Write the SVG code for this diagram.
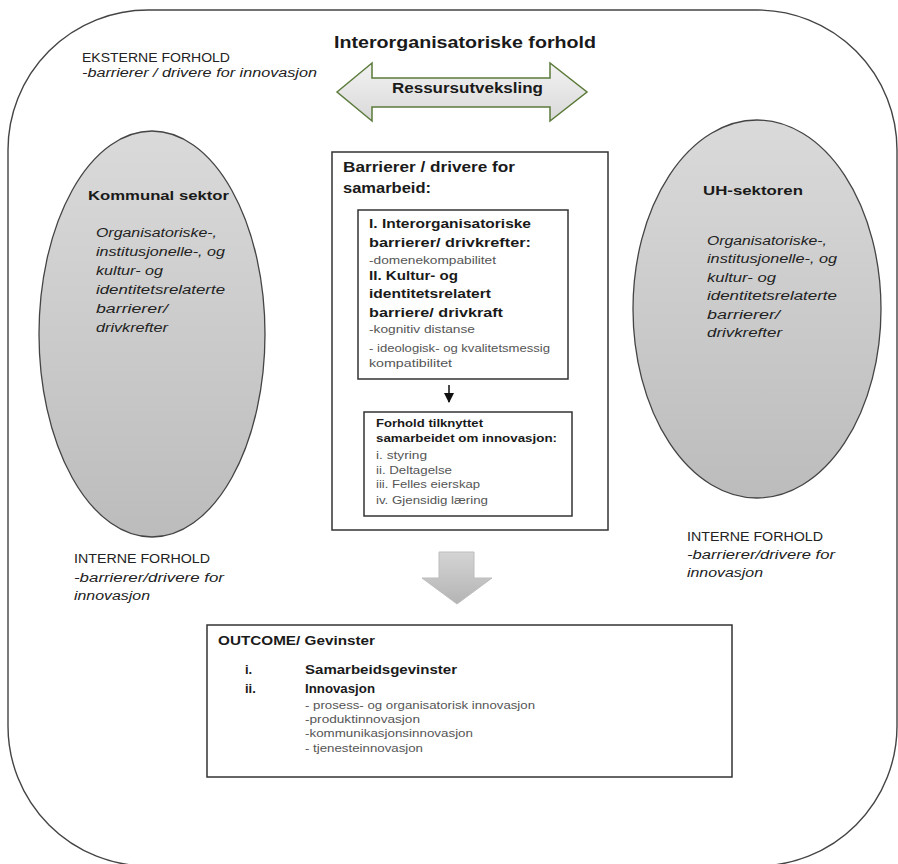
<svg xmlns="http://www.w3.org/2000/svg" width="898" height="864" viewBox="0 0 898 864">
<defs>
<linearGradient id="ellG" x1="0" y1="0" x2="0" y2="1">
<stop offset="0" stop-color="#dadada"/>
<stop offset="1" stop-color="#bcbcbc"/>
</linearGradient>
<linearGradient id="dblG" x1="0" y1="0" x2="0" y2="1">
<stop offset="0" stop-color="#f2f2f2"/>
<stop offset="1" stop-color="#d9d9d9"/>
</linearGradient>
<linearGradient id="downG" x1="0" y1="0" x2="0" y2="1">
<stop offset="0" stop-color="#d4d4d4"/>
<stop offset="1" stop-color="#b4b4b4"/>
</linearGradient>
<marker id="ah" viewBox="0 0 10 10" refX="9" refY="5" markerWidth="7" markerHeight="7" orient="auto">
<path d="M0,0 L10,5 L0,10 z" fill="#111"/>
</marker>
</defs>
<style>
text{font-family:"Liberation Sans",Arial,sans-serif;fill:#222}
.b{font-weight:bold;fill:#1a1a1a}
.it{font-style:italic}
.sm{font-size:10px;fill:#555}
.box{fill:#fff;stroke:#333;stroke-width:1.5}
.ell{fill:url(#ellG);stroke:#444;stroke-width:1.3}
</style>
<rect width="898" height="864" fill="#fff"/>

<g id="frame">
<rect x="8" y="10" width="889" height="856" rx="140" ry="140" fill="none" stroke="#444" stroke-width="1.4"/>
<text x="82" y="62" font-size="12" textLength="148" lengthAdjust="spacingAndGlyphs">EKSTERNE FORHOLD</text>
<text class="it" x="82" y="77" font-size="12" textLength="235" lengthAdjust="spacingAndGlyphs">-barrierer / drivere for innovasjon</text>
<text class="b" x="334" y="48" font-size="16" textLength="262" lengthAdjust="spacingAndGlyphs">Interorganisatoriske forhold</text>
</g>

<g id="ressursutveksling">
<path d="M337,92 L372,63 L372,78 L550,78 L550,63 L587,92 L550,121 L550,107 L372,107 L372,121 Z" fill="url(#dblG)" stroke="#5b7a3a" stroke-width="1.5"/>
<text class="b" x="392" y="93" font-size="14" textLength="151" lengthAdjust="spacingAndGlyphs">Ressursutveksling</text>
</g>

<g id="kommunal">
<ellipse class="ell" cx="152" cy="334" rx="113" ry="203"/>
<text class="b" x="88" y="200" font-size="13.5" textLength="141" lengthAdjust="spacingAndGlyphs">Kommunal sektor</text>
<g class="it" font-size="12">
<text x="96" y="237" textLength="121" lengthAdjust="spacingAndGlyphs">Organisatoriske-,</text>
<text x="96" y="256" textLength="129" lengthAdjust="spacingAndGlyphs">institusjonelle-, og</text>
<text x="96" y="275" textLength="67" lengthAdjust="spacingAndGlyphs">kultur- og</text>
<text x="96" y="294" textLength="129" lengthAdjust="spacingAndGlyphs">identitetsrelaterte</text>
<text x="96" y="313" textLength="72" lengthAdjust="spacingAndGlyphs">barrierer/</text>
<text x="96" y="332" textLength="72" lengthAdjust="spacingAndGlyphs">drivkrefter</text>
</g>
</g>

<g id="uh">
<ellipse class="ell" cx="757" cy="309" rx="124" ry="189"/>
<text class="b" x="703" y="195" font-size="13.5" textLength="100" lengthAdjust="spacingAndGlyphs">UH-sektoren</text>
<g class="it" font-size="12">
<text x="707" y="245" textLength="120" lengthAdjust="spacingAndGlyphs">Organisatoriske-,</text>
<text x="707" y="263" textLength="130" lengthAdjust="spacingAndGlyphs">institusjonelle-, og</text>
<text x="707" y="282" textLength="69" lengthAdjust="spacingAndGlyphs">kultur- og</text>
<text x="707" y="300" textLength="130" lengthAdjust="spacingAndGlyphs">identitetsrelaterte</text>
<text x="707" y="319" textLength="73" lengthAdjust="spacingAndGlyphs">barrierer/</text>
<text x="707" y="337" textLength="75" lengthAdjust="spacingAndGlyphs">drivkrefter</text>
</g>
</g>

<g id="samarbeid">
<rect class="box" x="332" y="152" width="276" height="378"/>
<text class="b" x="343" y="172" font-size="14.5" textLength="172" lengthAdjust="spacingAndGlyphs">Barrierer / drivere for</text>
<text class="b" x="343" y="193" font-size="14.5" textLength="88" lengthAdjust="spacingAndGlyphs">samarbeid:</text>
</g>

<g id="barrierer">
<rect class="box" x="358" y="210" width="210" height="169"/>
<text class="b" x="369" y="228" font-size="13.5" textLength="162" lengthAdjust="spacingAndGlyphs">I. Interorganisatoriske</text>
<text class="b" x="369" y="247" font-size="13.5" textLength="162" lengthAdjust="spacingAndGlyphs">barrierer/ drivkrefter:</text>
<text class="sm" x="369" y="264" textLength="127" lengthAdjust="spacingAndGlyphs">-domenekompabilitet</text>
<text class="b" x="369" y="280" font-size="13.5" textLength="89" lengthAdjust="spacingAndGlyphs">II. Kultur- og</text>
<text class="b" x="369" y="298" font-size="13.5" textLength="122" lengthAdjust="spacingAndGlyphs">identitetsrelatert</text>
<text class="b" x="369" y="317" font-size="13.5" textLength="134" lengthAdjust="spacingAndGlyphs">barriere/ drivkraft</text>
<text class="sm" x="369" y="333" textLength="106" lengthAdjust="spacingAndGlyphs">-kognitiv distanse</text>
<text class="sm" x="369" y="352" textLength="181" lengthAdjust="spacingAndGlyphs">- ideologisk- og kvalitetsmessig</text>
<text class="sm" x="369" y="367" textLength="83" lengthAdjust="spacingAndGlyphs">kompatibilitet</text>
</g>

<g id="forhold">
<rect class="box" x="364" y="412" width="208" height="104"/>
<text class="b" x="376" y="427" font-size="10.5" textLength="107" lengthAdjust="spacingAndGlyphs">Forhold tilknyttet</text>
<text class="b" x="376" y="442" font-size="10.5" textLength="181" lengthAdjust="spacingAndGlyphs">samarbeidet om innovasjon:</text>
<text class="sm" x="376" y="459" textLength="51" lengthAdjust="spacingAndGlyphs">i. styring</text>
<text class="sm" x="376" y="474" textLength="76" lengthAdjust="spacingAndGlyphs">ii. Deltagelse</text>
<text class="sm" x="376" y="488" textLength="104" lengthAdjust="spacingAndGlyphs">iii. Felles eierskap</text>
<text class="sm" x="376" y="504" textLength="112" lengthAdjust="spacingAndGlyphs">iv. Gjensidig læring</text>
</g>

<g id="interne-venstre">
<text x="74" y="563" font-size="12" textLength="136" lengthAdjust="spacingAndGlyphs">INTERNE FORHOLD</text>
<text class="it" x="74" y="582" font-size="12" textLength="150" lengthAdjust="spacingAndGlyphs">-barrierer/drivere for</text>
<text class="it" x="74" y="600" font-size="12" textLength="76" lengthAdjust="spacingAndGlyphs">innovasjon</text>
</g>

<g id="interne-hoyre">
<text x="687" y="541" font-size="12" textLength="136" lengthAdjust="spacingAndGlyphs">INTERNE FORHOLD</text>
<text class="it" x="687" y="559" font-size="12" textLength="148" lengthAdjust="spacingAndGlyphs">-barrierer/drivere for</text>
<text class="it" x="687" y="577" font-size="12" textLength="76" lengthAdjust="spacingAndGlyphs">innovasjon</text>
</g>

<g id="outcome">
<rect class="box" x="207" y="625" width="525" height="152"/>
<text class="b" x="218" y="645" font-size="13" textLength="157" lengthAdjust="spacingAndGlyphs">OUTCOME/ Gevinster</text>
<text class="b" x="245" y="674" font-size="13">i.</text>
<text class="b" x="305" y="674" font-size="13.5" textLength="152" lengthAdjust="spacingAndGlyphs">Samarbeidsgevinster</text>
<text class="b" x="245" y="693" font-size="13">ii.</text>
<text class="b" x="305" y="693" font-size="13.5" textLength="70" lengthAdjust="spacingAndGlyphs">Innovasjon</text>
<text class="sm" x="305" y="709" textLength="230" lengthAdjust="spacingAndGlyphs">- prosess- og organisatorisk innovasjon</text>
<text class="sm" x="305" y="723" textLength="115" lengthAdjust="spacingAndGlyphs">-produktinnovasjon</text>
<text class="sm" x="305" y="737" textLength="168" lengthAdjust="spacingAndGlyphs">-kommunikasjonsinnovasjon</text>
<text class="sm" x="305" y="752" textLength="118" lengthAdjust="spacingAndGlyphs">- tjenesteinnovasjon</text>
</g>

<g id="connectors">
<line x1="449" y1="385" x2="449" y2="402" stroke="#111" stroke-width="1.5" marker-end="url(#ah)"/>
<path d="M439,552 L474,552 L474,578 L492,578 L457,604 L422,578 L439,578 Z" fill="url(#downG)" stroke="#bdbdbd" stroke-width="1"/>
</g>
</svg>
